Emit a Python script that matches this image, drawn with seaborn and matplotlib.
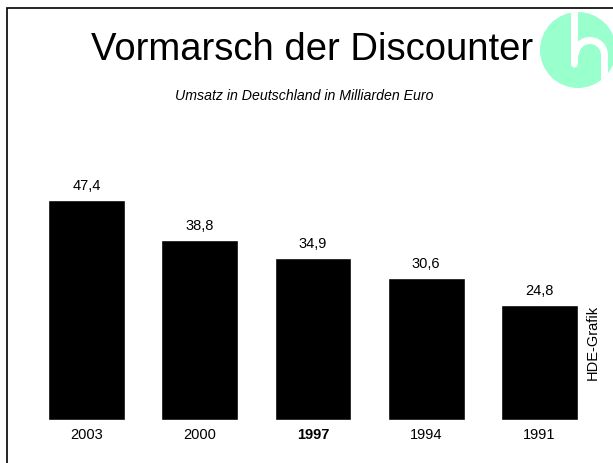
import matplotlib
matplotlib.use("Agg")
import matplotlib.pyplot as plt
import seaborn as sns
import pandas as pd
from matplotlib.patches import Circle, Rectangle, Wedge

# data
years = ["2003", "2000", "1997", "1994", "1991"]
umsatz = [47.4, 38.8, 34.9, 30.6, 24.8]
value_labels = ["47,4", "38,8", "34,9", "30,6", "24,8"]

df = pd.DataFrame({"Jahr": years, "Umsatz": umsatz})

sns.set_theme(style="white")
plt.rcParams["font.family"] = ["Liberation Sans", "DejaVu Sans"]
plt.rcParams["text.color"] = "black"
plt.rcParams["xtick.color"] = "black"

fig = plt.figure(figsize=(6.13, 4.63), dpi=100)
W, H = 613, 463

# frame around the chart (right and bottom edges fall off the picture)
fig.add_artist(Rectangle((7 / W, -0.1), 1.2, 1 - 8 / H + 0.1, transform=fig.transFigure,
                         fill=False, edgecolor="black", linewidth=1.2))

ax = fig.add_axes([30 / W, (H - 420) / H, 566 / W, 278.5 / H])
sns.barplot(data=df, x="Jahr", y="Umsatz", color="black", width=0.68,
            saturation=1, ax=ax)
ax.set_ylim(0, 60)
ax.set_xlim(-0.5, 4.5)
for s in ax.spines.values():
    s.set_visible(False)
ax.set_yticks([])
ax.set_xlabel("")
ax.set_ylabel("")
ax.tick_params(axis="x", length=0, pad=6, labelsize=10.5)
for lbl in ax.get_xticklabels():
    if lbl.get_text() == "1997":
        lbl.set_fontweight("bold")
ax.bar_label(ax.containers[0], labels=value_labels, padding=5, fontsize=10.5)
ax.patch.set_alpha(0)

# titles
fig.text(312 / W, 1 - 50 / H, "Vormarsch der Discounter", ha="center", va="center",
         fontsize=27.5)
fig.text(304 / W, 1 - 96 / H, "Umsatz in Deutschland in Milliarden Euro", ha="center",
         va="center", fontsize=10.2, style="italic")

# source note
fig.text(593 / W, 1 - 342 / H, "HDE-Grafik", rotation=90, ha="center", va="center",
         fontsize=10.5)

# logo (pixel coords, y measured from top)
lax = fig.add_axes([0, 0, 1, 1])
lax.set_xlim(0, W)
lax.set_ylim(0, H)
lax.axis("off")
green = "#99ffcc"
disc = Circle((578, H - 50), 38, color=green, lw=0)
lax.add_patch(disc)
shapes = [
    Rectangle((571, H - 64), 7, 60, color="white", lw=0),
    Circle((574.5, H - 64), 3.5, color="white", lw=0),
    Wedge((590, H - 55), 18, 0, 180, width=7, color="white", lw=0),
    Rectangle((601, H - 100), 7, 45, color="white", lw=0),
]
for p in shapes:
    lax.add_patch(p)
    p.set_clip_path(disc)

fig.savefig("out.png", dpi=100)
